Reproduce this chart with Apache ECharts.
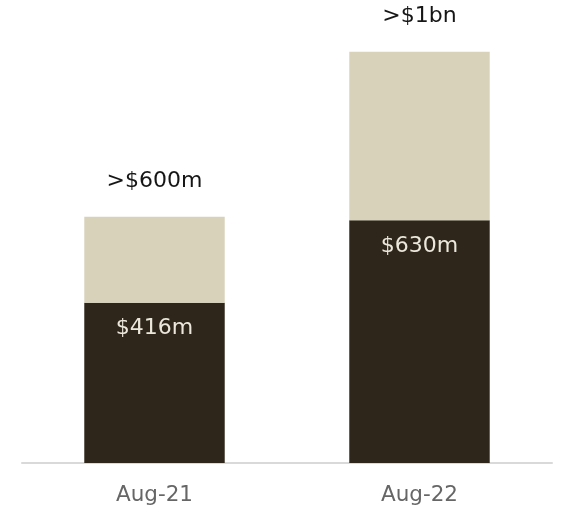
<!DOCTYPE html>
<html>
<head>
<meta charset="utf-8">
<script src="https://cdn.jsdelivr.net/npm/echarts@6/dist/echarts.min.js"></script>
<style>
  html, body { margin: 0; padding: 0; background: #fff; }
  #chart { width: 564px; height: 509px; }
</style>
</head>
<body>
<div id="chart"></div>
<script>
// Periods on the x axis
const categories = ['Aug-21', 'Aug-22'];
// Confirmed amount (dark base segment), $m
const baseValues = [416, 630];
// Overall total (top of the light segment), $m
const totalValues = [639, 1067];
// Label text
const baseLabels = ['$416m', '$630m'];
const totalLabels = ['>$600m', '>$1bn'];

// Light segment height is the remainder above the base
const restValues = totalValues.map((t, i) => t - baseValues[i]);

const FONT = '"DejaVu Sans", sans-serif';

const chart = echarts.init(document.getElementById('chart'), null, { renderer: 'canvas' });
chart.setOption({
  animation: false,
  backgroundColor: '#ffffff',
  grid: { left: 22, right: 12, top: 39, bottom: 46 },
  xAxis: {
    type: 'category',
    data: categories,
    axisLine: { show: true, lineStyle: { color: '#d9d9d9', width: 2 } },
    axisTick: { show: false },
    axisLabel: { color: '#666666', fontSize: 21.5, fontFamily: FONT, margin: 21 }
  },
  yAxis: {
    type: 'value',
    min: 0,
    max: 1100,
    show: false,
    splitLine: { show: false }
  },
  series: [
    {
      name: 'base',
      type: 'bar',
      stack: 'total',
      barWidth: '53%',
      data: baseValues,
      itemStyle: { color: '#2e261a' },
      label: {
        show: true,
        position: 'insideTop',
        distance: 15,
        color: '#ebe7dc',
        fontSize: 22,
        fontFamily: FONT,
        formatter: p => baseLabels[p.dataIndex]
      }
    },
    {
      name: 'rest',
      type: 'bar',
      stack: 'total',
      barWidth: '53%',
      data: restValues,
      itemStyle: { color: '#d9d2ba' },
      label: {
        show: true,
        position: 'top',
        distance: 24,
        color: '#161616',
        fontSize: 22,
        fontFamily: FONT,
        formatter: p => totalLabels[p.dataIndex]
      }
    }
  ]
});
</script>
</body>
</html>
